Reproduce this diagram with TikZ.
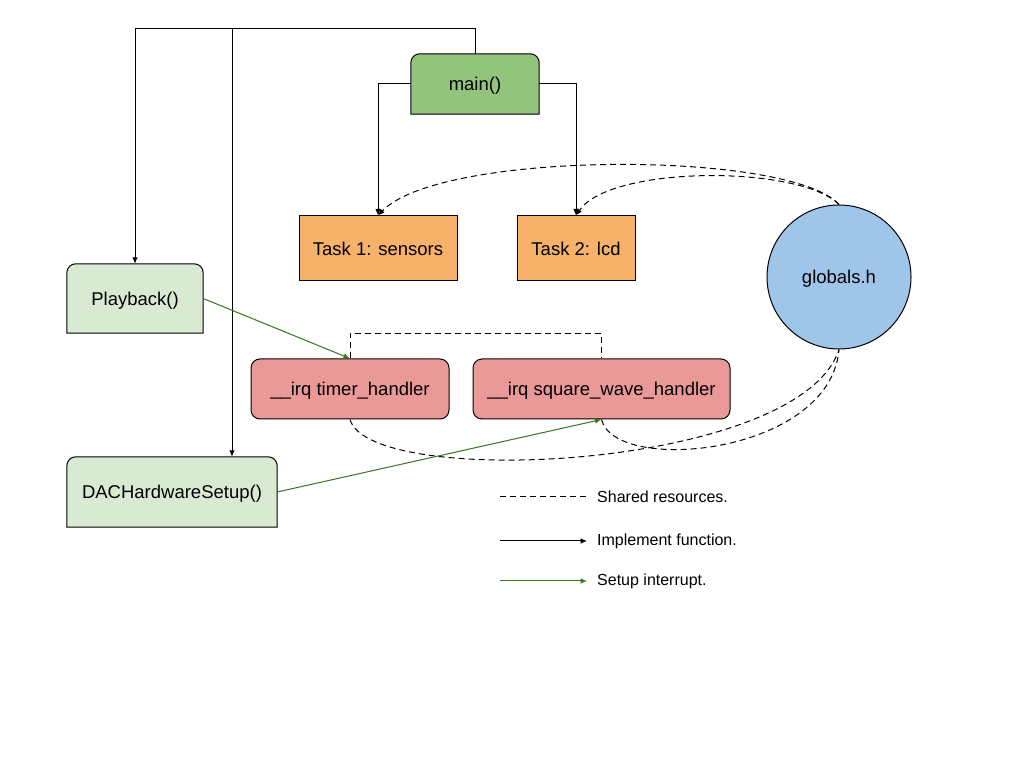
\documentclass[tikz,border=0pt]{standalone}
\usepackage{fontspec}
\setmainfont{Liberation Sans}
\usetikzlibrary{arrows.meta,backgrounds,calc}
\definecolor{cmain}{HTML}{93C47D}
\definecolor{clight}{HTML}{D9EAD3}
\definecolor{ctask}{HTML}{F6B26B}
\definecolor{cirq}{HTML}{EA9999}
\definecolor{cglob}{HTML}{9FC5E8}
\definecolor{cgreen}{HTML}{38761D}
\newcommand\roundtopbox[2]{%
  \draw[fill=#2,line width=1pt] (#1.south west) -- ([yshift=-9pt]#1.north west)
    arc[start angle=180,end angle=90,radius=9pt] -- ([xshift=-9pt]#1.north east)
    arc[start angle=90,end angle=0,radius=9pt] -- (#1.south east) -- cycle;}
\tikzset{
  lbl/.style={font=\fontsize{18.5}{22}\selectfont, inner sep=0pt, align=center, text height=13.5pt, text depth=0pt},
  rtbox/.style={lbl, draw=none},
  taskbox/.style={lbl, draw, line width=1pt, fill=ctask},
  irqbox/.style={lbl, draw, line width=1pt, fill=cirq, rounded corners=9pt},
  impl/.style={line width=1pt, -{Latex[length=6.5pt,width=5.5pt]}},
  shared/.style={line width=1pt, dash pattern=on 6pt off 4pt},
  setup/.style={line width=1pt, cgreen, -{Latex[length=6.5pt,width=5.5pt]}},
  legtext/.style={font=\fontsize{16}{19}\selectfont, anchor=west, inner sep=0pt}
}
\begin{document}
\begin{tikzpicture}[x=1pt,y=1pt]
\useasboundingbox (0,0) rectangle (1024,768);

% nodes
\node[rtbox, minimum width=128pt, minimum height=60pt] (main) at (475,684) {main()};
\node[rtbox, minimum width=136pt, minimum height=69pt] (play) at (135,469.5) {Playback()};
\node[rtbox, minimum width=210pt, minimum height=70pt] (dac) at (172,276) {DACHardwareSetup()};
\node[taskbox, minimum width=158pt, minimum height=65pt] (t1) at (378,519.5) {Task 1: sensors};
\node[taskbox, minimum width=118pt, minimum height=65pt] (t2) at (576,519.5) {Task 2: lcd};
\node[lbl, draw, line width=1pt, fill=cglob, circle, minimum size=144pt] (glob) at (839,491) {globals.h};
\node[irqbox, minimum width=198pt, minimum height=60pt] (timer) at (350,379) {\_\_irq timer\_handler};
\node[irqbox, minimum width=257pt, minimum height=60pt] (square) at (601.5,379) {\_\_irq square\_wave\_handler};

\begin{pgfonlayer}{background}
  \fill[white] (0,0) rectangle (1024,768);
  \roundtopbox{main}{cmain}
  \roundtopbox{play}{clight}
  \roundtopbox{dac}{clight}
\end{pgfonlayer}

% implement-function connectors
\coordinate (jt) at (475,739);
\coordinate (jd) at (232,739);
\draw[impl] (main.north) -- (jt) -| (play.north);
\draw[impl] (jd) -- (jd |- dac.north);
\draw[impl] (main.west) -| (t1.north);
\draw[impl] (main.east) -| (t2.north);

% shared resources
\draw[shared, -{Latex[length=6.5pt,width=5.5pt]}] (glob.north) .. controls (790,618) and (440,618) .. (t1.north);
\draw[shared, -{Latex[length=6.5pt,width=5.5pt]}] (glob.north) .. controls (800,603) and (610,603) .. (t2.north);
\draw[shared] (timer.north) -- ++(0,25) -| (square.north);
\draw[shared] (timer.south) .. controls (370,278) and (800,298) .. (glob.south);
\draw[shared] (square.south) .. controls (615,293) and (830,313) .. (glob.south);

% setup interrupt
\draw[setup] (play.east) -- (timer.north);
\draw[setup] (dac.east) -- (square.south);

% legend
\coordinate (la1) at (500,271); \coordinate (lb1) at (587,271);
\coordinate (la2) at (500,227); \coordinate (lb2) at (587,227);
\coordinate (la3) at (500,187); \coordinate (lb3) at (587,187);
\draw[shared] (la1) -- (lb1);
\draw[impl] (la2) -- (lb2);
\draw[setup] (la3) -- (lb3);
\node[legtext] (lt1) at (597,271) {Shared resources.};
\node[legtext] (lt2) at (597,227) {Implement function.};
\node[legtext] (lt3) at (597,187) {Setup interrupt.};
\end{tikzpicture}
\end{document}
